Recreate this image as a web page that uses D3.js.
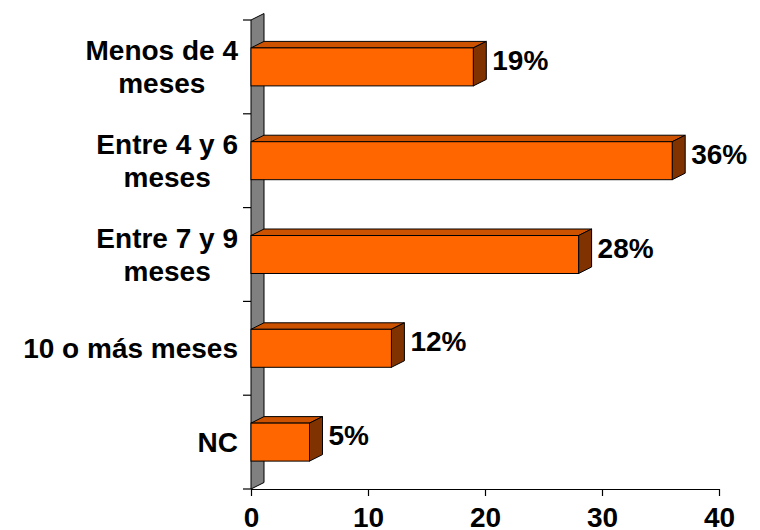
<!DOCTYPE html>
<html>
<head>
<meta charset="utf-8">
<script src="https://cdn.jsdelivr.net/npm/d3@7"></script>
<style>
  html, body { margin: 0; padding: 0; background: #fff; }
  svg text { font-family: "Liberation Sans", Arial, sans-serif; font-weight: bold; fill: #000; }
</style>
</head>
<body>
<svg id="chart" width="760" height="530"></svg>
<script>
// Categories (top to bottom), one array of lines per label
const categories = ["Menos de 4 meses", "Entre 4 y 6 meses", "Entre 7 y 9 meses", "10 o más meses", "NC"];
const categoryLines = [["Menos de 4", "meses"], ["Entre 4 y 6", "meses"], ["Entre 7 y 9", "meses"], ["10 o más meses"], ["NC"]];
const values = [19, 36, 28, 12, 5];
const valueLabels = ["19%", "36%", "28%", "12%", "5%"];
const xTicks = [0, 10, 20, 30, 40];

const svg = d3.select("#chart");
const plotLeft = 251, plotRight = 719, plotTop = 20, plotBottom = 489;
const depthX = 13, depthY = -6.5;
const fontSize = 28, capH = 20, lineGap = 33;

const x = d3.scaleLinear().domain([0, 40]).range([plotLeft, plotRight]);
const y = d3.scaleBand().domain(categories).range([plotTop, plotBottom])
  .paddingInner(0.595).paddingOuter(0.2975);

// Grey back wall
svg.append("path")
  .attr("d", `M${plotLeft},${plotTop} L${plotLeft + depthX},${plotTop + depthY} L${plotLeft + depthX},${plotBottom + depthY} L${plotLeft},${plotBottom} Z`)
  .attr("fill", "#808080").attr("stroke", "#000").attr("stroke-width", 1);

// X axis
const xAxis = d3.axisBottom(x).tickValues(xTicks).tickSize(7).tickSizeOuter(0);
const gx = svg.append("g").attr("transform", `translate(0,${plotBottom})`).call(xAxis);
gx.select(".domain").attr("stroke", "#000").attr("stroke-width", 1.2);
gx.selectAll(".tick line").attr("stroke", "#000").attr("stroke-width", 1.2);
gx.selectAll(".tick text").attr("font-size", fontSize).attr("font-family", "Liberation Sans, Arial, sans-serif")
  .attr("font-weight", "bold").attr("fill", "#000").attr("dy", 0).attr("y", 38);

// Y axis ticks at band boundaries (left edge of the wall)
const yBounds = categories.map((c, i) => i === 0 ? plotTop : y(c) - y.step() * y.paddingInner() / 2).concat([plotBottom]);
svg.append("g").selectAll("line").data(yBounds).join("line")
  .attr("x1", plotLeft - 8).attr("x2", plotLeft)
  .attr("y1", d => d).attr("y2", d => d)
  .attr("stroke", "#000").attr("stroke-width", 1.2);

// 3D bars
const bars = svg.append("g").selectAll("g").data(categories).join("g");
bars.each(function(c, i) {
  const g = d3.select(this);
  const x0 = x(0), x1 = x(values[i]);
  const y0 = y(c), y1 = y(c) + y.bandwidth();
  // top face
  g.append("path")
    .attr("d", `M${x0},${y0} L${x0 + depthX},${y0 + depthY} L${x1 + depthX},${y0 + depthY} L${x1},${y0} Z`)
    .attr("fill", "#CC5200").attr("stroke", "#000").attr("stroke-width", 1).attr("stroke-linejoin", "round");
  // side face
  g.append("path")
    .attr("d", `M${x1},${y0} L${x1 + depthX},${y0 + depthY} L${x1 + depthX},${y1 + depthY} L${x1},${y1} Z`)
    .attr("fill", "#803300").attr("stroke", "#000").attr("stroke-width", 1).attr("stroke-linejoin", "round");
  // front face
  g.append("rect")
    .attr("x", x0).attr("y", y0).attr("width", x1 - x0).attr("height", y1 - y0)
    .attr("fill", "#FF6600").attr("stroke", "#000").attr("stroke-width", 1);
});

// Value labels
svg.append("g").selectAll("text").data(categories).join("text")
  .attr("x", (c, i) => x(values[i]) + depthX + 6)
  .attr("y", c => y(c) + y.bandwidth() / 2 + 3)
  .attr("font-size", fontSize)
  .text((c, i) => valueLabels[i]);

// Category labels: lines centred within a right-aligned block
const labelRight = 238;
categories.forEach((c, i) => {
  const lines = categoryLines[i];
  const g = svg.append("g");
  const texts = lines.map(l => g.append("text").attr("font-size", fontSize).text(l));
  const maxW = d3.max(texts, t => t.node().getComputedTextLength());
  const cx = labelRight - maxW / 2;
  const center = y(c) + y.bandwidth() / 2;
  const b0 = center + capH / 2 - (lineGap / 2) * (lines.length - 1);
  texts.forEach((t, j) => t.attr("text-anchor", "middle").attr("x", cx).attr("y", b0 + j * lineGap));
});
</script>
</body>
</html>
